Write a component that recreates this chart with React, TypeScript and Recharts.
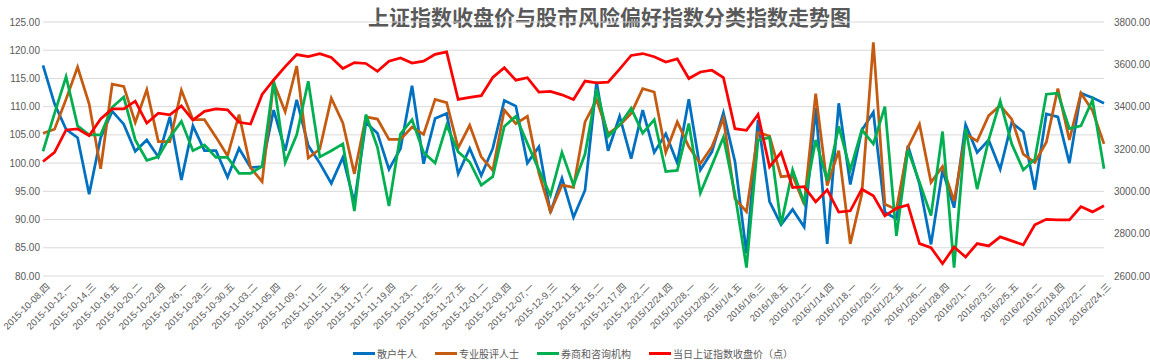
import React from 'react';
import { ComposedChart, Line, XAxis, YAxis, CartesianGrid } from 'recharts';

const dates = [
  '2015-10-08,四', '2015-10-09,五', '2015-10-12,一', '2015-10-13,二', '2015-10-14,三', '2015-10-15,四',
  '2015-10-16,五', '2015-10-19,一', '2015-10-20,二', '2015-10-21,三', '2015-10-22,四', '2015-10-23,五',
  '2015-10-26,一', '2015-10-27,二', '2015-10-28,三', '2015-10-29,四', '2015-10-30,五', '2015-11-02,一',
  '2015-11-03,二', '2015-11-04,三', '2015-11-05,四', '2015-11-06,五', '2015-11-09,一', '2015-11-10,二',
  '2015-11-11,三', '2015-11-12,四', '2015-11-13,五', '2015-11-16,一', '2015-11-17,二', '2015-11-18,三',
  '2015-11-19,四', '2015-11-20,五', '2015-11-23,一', '2015-11-24,二', '2015-11-25,三', '2015-11-26,四',
  '2015-11-27,五', '2015-11-30,一', '2015-12-01,二', '2015-12-02,三', '2015-12-03,四', '2015-12-04,五',
  '2015-12-07,一', '2015-12-8,二', '2015-12-9,三', '2015-12-10,四', '2015-12-11,五', '2015-12-14,一',
  '2015-12-15,二', '2015-12-16,三', '2015-12-17,四', '2015-12-18,五', '2015-12-22,二', '2015/12/23,三',
  '2015/12/24,四', '2015/12/25,五', '2015/12/28,一', '2015/12/29,二', '2015/12/30,三', '2015/12/31,四',
  '2016/1/4,五', '2016/1/5,二', '2016/1/6,三', '2016/1/7,四', '2016/1/8,五', '2016/1/11,一',
  '2016/1/12,二', '2016/1/13,三', '2016/1/14,四', '2016/1/15,五', '2016/1/18,一', '2016/1/19,二',
  '2016/1/20,三', '2016/1/21,四', '2016/1/22,五', '2016/1/25,一', '2016/1/26,二', '2016/1/27,三',
  '2016/1/28,四', '2016/1/29,五', '2016/2/1,一', '2016/2/2,二', '2016/2/3,三', '2016/2/4,四',
  '2016/2/5,五', '2016/2/15,一', '2016/2/16,二', '2016/2/17,三', '2016/2/18,四', '2016/2/19,五',
  '2016/2/22,一', '2016/2/23,二', '2016/2/24,三',
];

// 散户牛人
const retail = [
  117.3, 110.5, 106.0, 104.5, 94.5, 104.5, 109.2, 106.9, 102.1, 104.1, 101.1, 108.2, 97.0, 106.6, 102.2, 102.2,
  97.5, 102.6, 99.2, 99.4, 109.4, 102.2, 111.2, 103.1, 100.0, 96.4, 101.0, 93.0, 107.2, 105.3, 98.9, 102.6,
  113.7, 99.9, 107.9, 108.8, 98.1, 102.6, 97.8, 102.6, 111.1, 110.1, 100.0, 102.9, 91.2, 97.3, 90.4, 95.2,
  114.4, 102.2, 108.3, 100.8, 109.4, 101.9, 105.2, 100.0, 111.3, 98.8, 102.0, 108.9, 100.3, 84.0, 107.6, 93.2,
  89.1, 91.8, 88.7, 109.8, 85.7, 110.6, 96.2, 105.8, 109.0, 91.3, 90.1, 103.1, 96.3, 85.6, 98.7, 92.1,
  106.8, 101.9, 104.1, 98.9, 107.2, 105.5, 95.3, 108.7, 108.2, 100.0, 112.4, 111.6, 110.6,
];

// 专业股评人士
const pundits = [
  105.3, 106.0, 111.3, 117.0, 110.5, 99.0, 114.0, 113.6, 107.2, 113.0, 103.8, 103.8, 112.9, 107.7, 107.7, 104.6,
  101.3, 108.6, 99.2, 96.7, 114.3, 109.1, 117.2, 100.9, 102.5, 111.5, 107.1, 98.1, 108.2, 107.8, 104.2, 104.2,
  106.4, 105.1, 111.3, 110.7, 102.7, 106.7, 101.1, 98.7, 109.4, 107.0, 108.3, 98.2, 91.4, 96.1, 95.7, 107.3,
  111.2, 105.2, 106.7, 108.8, 113.2, 112.6, 101.9, 107.3, 102.9, 99.9, 102.9, 107.9, 93.7, 91.4, 105.4, 104.8,
  97.6, 97.8, 92.7, 112.3, 96.0, 102.2, 85.7, 94.5, 121.4, 92.7, 91.8, 102.8, 106.9, 96.6, 99.4, 93.3,
  105.2, 103.9, 108.4, 110.2, 107.8, 101.6, 100.1, 103.7, 113.2, 104.1, 112.4, 109.3, 103.4,
];

// 券商和咨询机构
const brokers = [
  102.1, 108.8, 115.3, 106.6, 105.0, 105.0, 109.9, 111.7, 104.1, 100.5, 101.1, 104.6, 107.4, 102.2, 103.2, 101.0,
  101.0, 98.2, 98.2, 99.4, 114.6, 100.1, 105.0, 114.5, 101.1, 102.2, 103.4, 91.5, 108.6, 102.8, 92.4, 105.2,
  107.7, 101.9, 100.0, 106.7, 102.0, 100.2, 96.1, 97.6, 106.5, 108.3, 103.5, 98.8, 94.3, 101.9, 96.1, 101.6,
  113.1, 104.7, 106.8, 109.7, 105.3, 107.7, 98.5, 98.7, 107.0, 94.7, 99.6, 104.6, 94.5, 81.5, 104.1, 104.5,
  89.1, 98.8, 93.0, 104.1, 96.9, 106.5, 98.8, 105.9, 103.4, 110.0, 87.1, 102.3, 96.6, 90.7, 105.6, 81.5,
  106.1, 95.4, 104.1, 111.0, 103.4, 98.8, 100.7, 112.2, 112.4, 106.1, 106.6, 111.2, 99.0,
];

// 当日上证指数收盘价（点）
const shIndex = [
  3141, 3184, 3290, 3295, 3263, 3342, 3389, 3389, 3426, 3322, 3369, 3361, 3404, 3337, 3378, 3389,
  3385, 3326, 3318, 3458, 3526, 3589, 3646, 3637, 3650, 3632, 3580, 3608, 3604, 3567, 3615, 3630,
  3606, 3615, 3647, 3659, 3434, 3444, 3452, 3538, 3584, 3525, 3537, 3469, 3472, 3456, 3434, 3521,
  3512, 3516, 3577, 3642, 3651, 3636, 3611, 3626, 3533, 3564, 3572, 3537, 3296, 3288, 3363, 3116,
  3184, 3018, 3022, 2950, 3007, 2902, 2908, 3010, 2979, 2884, 2920, 2936, 2753, 2734, 2658, 2737,
  2690, 2753, 2742, 2785, 2766, 2747, 2842, 2868, 2865, 2865, 2928, 2903, 2932,
];

const leftTicks = [80, 85, 90, 95, 100, 105, 110, 115, 120, 125];
const rightTicks = [2600, 2800, 3000, 3200, 3400, 3600, 3800];

const series = [
  { key: 'retail', name: '散户牛人', color: '#0070C0', axis: 'left' },
  { key: 'pundits', name: '专业股评人士', color: '#C55A11', axis: 'left' },
  { key: 'brokers', name: '券商和咨询机构', color: '#00B050', axis: 'left' },
  { key: 'shIndex', name: '当日上证指数收盘价（点）', color: '#FF0000', axis: 'right' },
];

const data = dates.map((d, i) => ({
  date: d,
  retail: retail[i],
  pundits: pundits[i],
  brokers: brokers[i],
  shIndex: shIndex[i],
}));

const DateTick = (props: any) => {
  const { x, y, payload } = props;
  return (
    <g transform={`translate(${x + 5},${y + 7}) rotate(-45)`}>
      <text x={0} y={0} dy="0.35em" textAnchor="end" fill="#595959" fontSize={9.5}>
        {payload.value}
      </text>
    </g>
  );
};

export default function App() {
  return (
    <div
      style={{
        position: 'absolute',
        left: 0,
        top: 0,
        width: 1150,
        height: 361,
        background: '#fff',
        fontFamily: "'Liberation Sans', 'Noto Sans CJK SC', sans-serif",
      }}
    >
      <div
        style={{
          position: 'absolute',
          left: 368,
          top: 3,
          fontSize: 21,
          fontWeight: 600,
          color: '#595959',
          fontFamily: "'Noto Sans CJK SC', sans-serif",
          lineHeight: '26px',
          whiteSpace: 'nowrap',
        }}
      >
        上证指数收盘价与股市风险偏好指数分类指数走势图
      </div>
      <ComposedChart width={1150} height={361} data={data} margin={{ top: 22, right: 0, bottom: 0, left: 0 }}>
        <CartesianGrid yAxisId="left" vertical={false} stroke="#d9d9d9" />
        <XAxis
          dataKey="date"
          interval={1}
          height={85}
          tickLine={false}
          axisLine={false}
          tickSize={0}
          tick={DateTick}
        />
        <YAxis
          yAxisId="left"
          domain={[80, 125]}
          ticks={leftTicks}
          width={43}
          tickLine={false}
          axisLine={false}
          tickSize={0}
          tickMargin={3}
          tick={{ fill: '#595959', fontSize: 10 }}
          tickFormatter={(v: number) => v.toFixed(2)}
        />
        <YAxis
          yAxisId="right"
          orientation="right"
          domain={[2600, 3800]}
          ticks={rightTicks}
          width={46}
          tickLine={false}
          axisLine={false}
          tickSize={0}
          tickMargin={10}
          tick={{ fill: '#595959', fontSize: 10 }}
          tickFormatter={(v: number) => v.toFixed(2)}
        />
        {series.map((s) => (
          <Line
            key={s.key}
            yAxisId={s.axis}
            type="linear"
            dataKey={s.key}
            name={s.name}
            stroke={s.color}
            strokeWidth={2.75}
            dot={false}
            activeDot={false}
            isAnimationActive={false}
          />
        ))}
      </ComposedChart>
      <div
        style={{
          position: 'absolute',
          left: 353,
          top: 346,
          display: 'flex',
          alignItems: 'center',
          fontSize: 10,
          color: '#595959',
          fontFamily: "'Noto Sans CJK SC', sans-serif",
          whiteSpace: 'nowrap',
        }}
      >
        {series.map((s) => (
          <div key={s.key} style={{ display: 'flex', alignItems: 'center', marginRight: 18 }}>
            <span style={{ display: 'inline-block', width: 22, height: 3, background: s.color, marginRight: 2 }} />
            <span>{s.name}</span>
          </div>
        ))}
      </div>
    </div>
  );
}
